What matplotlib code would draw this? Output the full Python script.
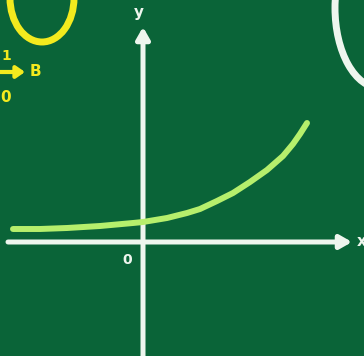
import matplotlib.pyplot as plt
from matplotlib.patches import Ellipse

# curve (one unit = 50 px, origin at the axes crossing)
curve_x = [-2.60, -2.06, -1.52, -0.86, -0.20, 0.00, 0.48, 0.88, 1.14,
           1.48, 1.80, 2.14, 2.48, 2.80, 3.00, 3.14, 3.28]
curve_y = [0.26, 0.26, 0.28, 0.32, 0.38, 0.40, 0.48, 0.58, 0.66,
           0.82, 0.98, 1.20, 1.44, 1.72, 1.96, 2.16, 2.38]

axis_x_range = [-2.7, 4.18]
axis_y_range = [-2.3, 4.3]

BOARD = "#0a6438"
CHALK = "#eef6ee"
LIME = "#b6ef6c"
YELLOW = "#f3ea1e"

fig = plt.figure(figsize=(3.64, 3.56), dpi=100)
fig.patch.set_facecolor(BOARD)
ax = fig.add_axes([0, 0, 1, 1])
ax.set_facecolor(BOARD)
ax.set_xlim(-2.86, 4.42)
ax.set_ylim(-2.28, 4.84)
ax.axis("off")

arrow = dict(arrowstyle="-|>,head_length=0.7,head_width=0.4", lw=3.6,
             color=CHALK, shrinkA=0, shrinkB=0, capstyle="round")
ax.annotate("", xy=(axis_x_range[1], 0), xytext=(axis_x_range[0], 0), arrowprops=arrow)
ax.annotate("", xy=(0, axis_y_range[1]), xytext=(0, axis_y_range[0]), arrowprops=arrow)

ax.plot(curve_x, curve_y, color=LIME, lw=4.3, solid_capstyle="round",
        solid_joinstyle="round", zorder=3)

ax.text(-0.08, 4.58, "y", color=CHALK, fontsize=11, fontweight="bold", ha="center", va="center")
ax.text(4.38, 0.0, "x", color=CHALK, fontsize=11, fontweight="bold", ha="center", va="center")
ax.text(-0.32, -0.36, "0", color=CHALK, fontsize=10, fontweight="bold", ha="center", va="center")

# leftover chalk from the rest of the board
ax.add_patch(Ellipse((-2.02, 4.88), 1.28, 1.76, fill=False, ec=YELLOW, lw=5))
ax.add_patch(Ellipse((4.74, 4.68), 1.8, 3.2, fill=False, ec=CHALK, lw=5))
ax.text(-2.84, 3.72, "1", color=YELLOW, fontsize=10, fontweight="bold", ha="left", va="center")
ax.annotate("", xy=(-2.36, 3.4), xytext=(-2.9, 3.4),
            arrowprops=dict(arrowstyle="-|>,head_length=0.5,head_width=0.35", lw=3,
                            color=YELLOW, shrinkA=0, shrinkB=0))
ax.text(-2.16, 3.4, "B", color=YELLOW, fontsize=11, fontweight="bold", ha="center", va="center")
ax.text(-2.74, 2.9, "0", color=YELLOW, fontsize=11, fontweight="bold", ha="center", va="center")

fig.savefig("out.png", dpi=100, facecolor=BOARD)
